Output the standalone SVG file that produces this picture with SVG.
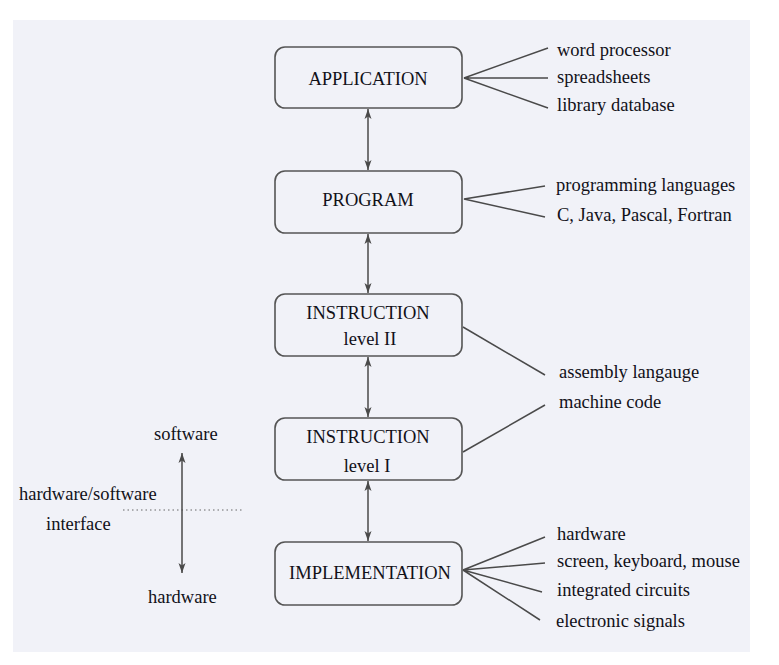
<svg xmlns="http://www.w3.org/2000/svg" width="779" height="665" viewBox="0 0 779 665">
<style>
.box{fill:#f1f2f8;stroke:#555;stroke-width:1.6}
.t{font-family:"Liberation Serif","Times New Roman",serif;font-size:18.5px;fill:#111118}
.c{text-anchor:middle}
.ln{stroke:#4a4a4a;stroke-width:1.5;fill:none}
.ar{stroke:#4a4a4a;stroke-width:1.5;fill:none;marker-start:url(#ah);marker-end:url(#ah)}
</style>
<defs>
<marker id="ah" viewBox="0 0 10 8" refX="10" refY="4" markerWidth="10" markerHeight="8" markerUnits="userSpaceOnUse" orient="auto-start-reverse">
<path d="M0,0.5 L10,4 L0,7.5 L2.5,4 z" fill="#4a4a4a"/>
</marker>
</defs>
<rect x="0" y="0" width="779" height="665" fill="#ffffff"/>
<rect x="13" y="20" width="737" height="632" fill="#f1f2f8"/>

<g id="application">
<rect class="box" x="275" y="47" width="187" height="61" rx="10"/>
<text class="t c" x="368" y="85">APPLICATION</text>
</g>
<g id="program">
<rect class="box" x="275" y="171" width="187" height="62" rx="10"/>
<text class="t c" x="368" y="206">PROGRAM</text>
</g>
<g id="instruction2">
<rect class="box" x="275" y="294" width="187" height="62" rx="10"/>
<text class="t c" x="368" y="319">INSTRUCTION</text>
<text class="t c" x="370" y="345">level II</text>
</g>
<g id="instruction1">
<rect class="box" x="275" y="418" width="187" height="62" rx="10"/>
<text class="t c" x="368" y="443">INSTRUCTION</text>
<text class="t c" x="367" y="472">level I</text>
</g>
<g id="implementation">
<rect class="box" x="275" y="542" width="187" height="63" rx="10"/>
<text class="t c" x="370" y="579">IMPLEMENTATION</text>
</g>

<g id="labels">
<text class="t" x="557" y="56">word processor</text>
<text class="t" x="557" y="83">spreadsheets</text>
<text class="t" x="557" y="111">library database</text>
<text class="t" x="556" y="191">programming languages</text>
<text class="t" x="557" y="221">C, Java, Pascal, Fortran</text>
<text class="t" x="559" y="378">assembly langauge</text>
<text class="t" x="559" y="408">machine code</text>
<text class="t" x="557" y="540">hardware</text>
<text class="t" x="557" y="567">screen, keyboard, mouse</text>
<text class="t" x="557" y="596">integrated circuits</text>
<text class="t" x="556" y="627">electronic signals</text>
</g>

<g id="scale">
<text class="t" x="154" y="440">software</text>
<text class="t" x="19" y="500">hardware/software</text>
<text class="t" x="46" y="530">interface</text>
<text class="t" x="148" y="603">hardware</text>
<line x1="123" y1="510" x2="244" y2="510" stroke="#666" stroke-width="1" stroke-dasharray="1.5,3"/>
</g>

<g id="connectors">
<line class="ar" x1="368" y1="109" x2="368" y2="170"/>
<line class="ar" x1="368" y1="234" x2="368" y2="293"/>
<line class="ar" x1="368" y1="357" x2="368" y2="417"/>
<line class="ar" x1="368" y1="481" x2="368" y2="541"/>
<line class="ar" x1="182" y1="453" x2="182" y2="573"/>
<path class="ln" d="M548,48 L464,78 L548,78 M464,78 L548,108"/>
<path class="ln" d="M545,186 L464,199 L545,217"/>
<path class="ln" d="M463,327 L545,375"/>
<path class="ln" d="M463,452 L545,405"/>
<path class="ln" d="M545,537 L463,570 L545,563 M463,570 L542,592 M463,570 L540,620"/>
</g>
</svg>
